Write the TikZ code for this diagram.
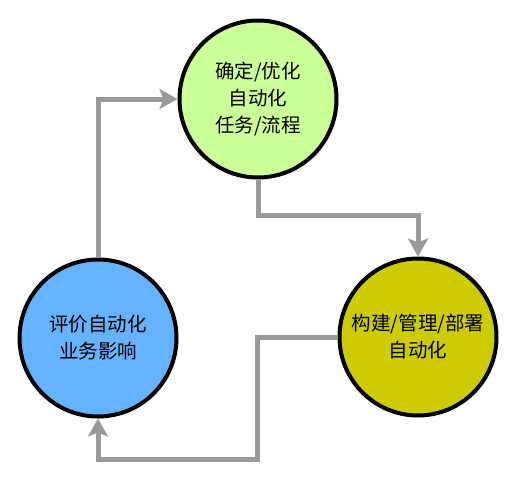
\documentclass[tikz,border=0pt]{standalone}
\usepackage{fontspec}
\newfontfamily\cjk{Noto Sans CJK SC}
\usetikzlibrary{shapes,arrows.meta}

\definecolor{taskgreen}{HTML}{CCFF99}
\definecolor{buildolive}{HTML}{CCCC00}
\definecolor{evalblue}{HTML}{66B2FF}
\definecolor{linegray}{HTML}{999999}

\begin{document}
\begin{tikzpicture}[x=1pt, y=-1pt]
    % Define block styles
    \tikzstyle{stage} = [circle, draw, line width=4pt, minimum size=157pt, inner sep=0pt,
        align=center, font=\cjk\fontsize{19.5}{27}\selectfont]
    \tikzstyle{line} = [draw, linegray, line width=5pt,
        -{Stealth[length=18pt, width=20pt, inset=4pt]}]

    \useasboundingbox (0,0) rectangle (517,485);

    % Stages
    \node [stage, fill=taskgreen] (task) at (258,99) {确定/优化\\自动化\\任务/流程};
    \node [stage, fill=buildolive] (build) at (418,337) {构建/管理/部署\\自动化};
    \node [stage, fill=evalblue] (eval) at (98,338) {评价自动化\\业务影响};

    % Loop paths
    \path [line] (task.south) -- ++(0,36) -| (build.north);
    \path [line] (build.west) -- ++(-80,0) -- ++(0,122) -| (eval.south);
    \path [line] (eval.north) |- (task.west);

\end{tikzpicture}
\end{document}
